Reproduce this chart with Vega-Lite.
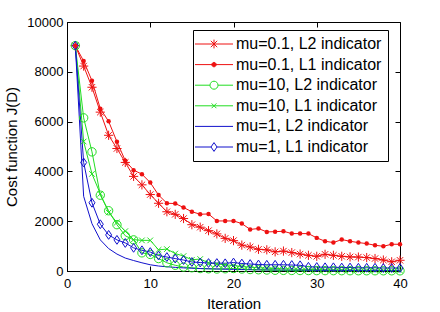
{
"$schema": "https://vega.github.io/schema/vega-lite/v6.json",
"width": 333, "height": 249,
"autosize": {"type": "none"},
"padding": {"left": 67, "top": 22, "right": 40, "bottom": 41},
"background": "white",
"config": {
  "view": {"stroke": "black", "strokeWidth": 1},
  "font": "Liberation Sans",
  "axis": {"domainColor": "black", "tickColor": "black", "labelColor": "black", "titleColor": "black", "grid": false, "labelFont": "Liberation Sans", "titleFont": "Liberation Sans", "labelFontSize": 13, "titleFontSize": 15, "titleFontWeight": "normal", "tickSize": -5, "domainWidth": 1, "tickWidth": 1}
},
"data": {"values": [
{"s":"mu=0.1, L2 indicator","x":1,"y":9050},{"s":"mu=0.1, L2 indicator","x":2,"y":8230},{"s":"mu=0.1, L2 indicator","x":3,"y":7380},{"s":"mu=0.1, L2 indicator","x":4,"y":6380},{"s":"mu=0.1, L2 indicator","x":5,"y":5450},{"s":"mu=0.1, L2 indicator","x":6,"y":4920},{"s":"mu=0.1, L2 indicator","x":7,"y":4360},{"s":"mu=0.1, L2 indicator","x":8,"y":3800},{"s":"mu=0.1, L2 indicator","x":9,"y":3460},{"s":"mu=0.1, L2 indicator","x":10,"y":3070},
{"s":"mu=0.1, L2 indicator","x":11,"y":2720},{"s":"mu=0.1, L2 indicator","x":12,"y":2380},{"s":"mu=0.1, L2 indicator","x":13,"y":2275},{"s":"mu=0.1, L2 indicator","x":14,"y":2107},{"s":"mu=0.1, L2 indicator","x":15,"y":1860},{"s":"mu=0.1, L2 indicator","x":16,"y":1760},{"s":"mu=0.1, L2 indicator","x":17,"y":1620},{"s":"mu=0.1, L2 indicator","x":18,"y":1490},{"s":"mu=0.1, L2 indicator","x":19,"y":1310},{"s":"mu=0.1, L2 indicator","x":20,"y":1220},
{"s":"mu=0.1, L2 indicator","x":21,"y":1040},{"s":"mu=0.1, L2 indicator","x":22,"y":965},{"s":"mu=0.1, L2 indicator","x":23,"y":870},{"s":"mu=0.1, L2 indicator","x":24,"y":850},{"s":"mu=0.1, L2 indicator","x":25,"y":770},{"s":"mu=0.1, L2 indicator","x":26,"y":800},{"s":"mu=0.1, L2 indicator","x":27,"y":740},{"s":"mu=0.1, L2 indicator","x":28,"y":680},{"s":"mu=0.1, L2 indicator","x":29,"y":630},{"s":"mu=0.1, L2 indicator","x":30,"y":590},
{"s":"mu=0.1, L2 indicator","x":31,"y":670},{"s":"mu=0.1, L2 indicator","x":32,"y":630},{"s":"mu=0.1, L2 indicator","x":33,"y":590},{"s":"mu=0.1, L2 indicator","x":34,"y":565},{"s":"mu=0.1, L2 indicator","x":35,"y":560},{"s":"mu=0.1, L2 indicator","x":36,"y":540},{"s":"mu=0.1, L2 indicator","x":37,"y":500},{"s":"mu=0.1, L2 indicator","x":38,"y":440},{"s":"mu=0.1, L2 indicator","x":39,"y":370},{"s":"mu=0.1, L2 indicator","x":40,"y":430},
{"s":"mu=0.1, L1 indicator","x":1,"y":9050},{"s":"mu=0.1, L1 indicator","x":2,"y":8430},{"s":"mu=0.1, L1 indicator","x":3,"y":7640},{"s":"mu=0.1, L1 indicator","x":4,"y":6520},{"s":"mu=0.1, L1 indicator","x":5,"y":6010},{"s":"mu=0.1, L1 indicator","x":6,"y":5190},{"s":"mu=0.1, L1 indicator","x":7,"y":4430},{"s":"mu=0.1, L1 indicator","x":8,"y":4050},{"s":"mu=0.1, L1 indicator","x":9,"y":3890},{"s":"mu=0.1, L1 indicator","x":10,"y":3550},
{"s":"mu=0.1, L1 indicator","x":11,"y":3050},{"s":"mu=0.1, L1 indicator","x":12,"y":2720},{"s":"mu=0.1, L1 indicator","x":13,"y":2710},{"s":"mu=0.1, L1 indicator","x":14,"y":2550},{"s":"mu=0.1, L1 indicator","x":15,"y":2380},{"s":"mu=0.1, L1 indicator","x":16,"y":2280},{"s":"mu=0.1, L1 indicator","x":17,"y":2290},{"s":"mu=0.1, L1 indicator","x":18,"y":2010},{"s":"mu=0.1, L1 indicator","x":19,"y":2010},{"s":"mu=0.1, L1 indicator","x":20,"y":2010},
{"s":"mu=0.1, L1 indicator","x":21,"y":1905},{"s":"mu=0.1, L1 indicator","x":22,"y":1670},{"s":"mu=0.1, L1 indicator","x":23,"y":1705},{"s":"mu=0.1, L1 indicator","x":24,"y":1570},{"s":"mu=0.1, L1 indicator","x":25,"y":1580},{"s":"mu=0.1, L1 indicator","x":26,"y":1596},{"s":"mu=0.1, L1 indicator","x":27,"y":1502},{"s":"mu=0.1, L1 indicator","x":28,"y":1502},{"s":"mu=0.1, L1 indicator","x":29,"y":1502},{"s":"mu=0.1, L1 indicator","x":30,"y":1330},
{"s":"mu=0.1, L1 indicator","x":31,"y":1195},{"s":"mu=0.1, L1 indicator","x":32,"y":1142},{"s":"mu=0.1, L1 indicator","x":33,"y":1263},{"s":"mu=0.1, L1 indicator","x":34,"y":1194},{"s":"mu=0.1, L1 indicator","x":35,"y":1142},{"s":"mu=0.1, L1 indicator","x":36,"y":1100},{"s":"mu=0.1, L1 indicator","x":37,"y":1033},{"s":"mu=0.1, L1 indicator","x":38,"y":993},{"s":"mu=0.1, L1 indicator","x":39,"y":1074},{"s":"mu=0.1, L1 indicator","x":40,"y":1074},
{"s":"mu=10, L2 indicator","x":1,"y":9050},{"s":"mu=10, L2 indicator","x":2,"y":6150},{"s":"mu=10, L2 indicator","x":3,"y":4785},{"s":"mu=10, L2 indicator","x":4,"y":3044},{"s":"mu=10, L2 indicator","x":5,"y":2420},{"s":"mu=10, L2 indicator","x":6,"y":1860},{"s":"mu=10, L2 indicator","x":7,"y":1415},{"s":"mu=10, L2 indicator","x":8,"y":1250},{"s":"mu=10, L2 indicator","x":9,"y":730},{"s":"mu=10, L2 indicator","x":10,"y":665},
{"s":"mu=10, L2 indicator","x":11,"y":500},{"s":"mu=10, L2 indicator","x":12,"y":330},{"s":"mu=10, L2 indicator","x":13,"y":230},{"s":"mu=10, L2 indicator","x":14,"y":160},{"s":"mu=10, L2 indicator","x":15,"y":130},{"s":"mu=10, L2 indicator","x":16,"y":100},{"s":"mu=10, L2 indicator","x":17,"y":90},{"s":"mu=10, L2 indicator","x":18,"y":80},{"s":"mu=10, L2 indicator","x":19,"y":90},{"s":"mu=10, L2 indicator","x":20,"y":100},
{"s":"mu=10, L2 indicator","x":21,"y":80},{"s":"mu=10, L2 indicator","x":22,"y":60},{"s":"mu=10, L2 indicator","x":23,"y":50},{"s":"mu=10, L2 indicator","x":24,"y":40},{"s":"mu=10, L2 indicator","x":25,"y":30},{"s":"mu=10, L2 indicator","x":26,"y":25},{"s":"mu=10, L2 indicator","x":27,"y":22},{"s":"mu=10, L2 indicator","x":28,"y":20},{"s":"mu=10, L2 indicator","x":29,"y":18},{"s":"mu=10, L2 indicator","x":30,"y":16},
{"s":"mu=10, L2 indicator","x":31,"y":15},{"s":"mu=10, L2 indicator","x":32,"y":14},{"s":"mu=10, L2 indicator","x":33,"y":13},{"s":"mu=10, L2 indicator","x":34,"y":12},{"s":"mu=10, L2 indicator","x":35,"y":11},{"s":"mu=10, L2 indicator","x":36,"y":10},{"s":"mu=10, L2 indicator","x":37,"y":10},{"s":"mu=10, L2 indicator","x":38,"y":9},{"s":"mu=10, L2 indicator","x":39,"y":9},{"s":"mu=10, L2 indicator","x":40,"y":8},
{"s":"mu=10, L1 indicator","x":1,"y":9050},{"s":"mu=10, L1 indicator","x":2,"y":5200},{"s":"mu=10, L1 indicator","x":3,"y":3900},{"s":"mu=10, L1 indicator","x":4,"y":3100},{"s":"mu=10, L1 indicator","x":5,"y":2350},{"s":"mu=10, L1 indicator","x":6,"y":1950},{"s":"mu=10, L1 indicator","x":7,"y":1600},{"s":"mu=10, L1 indicator","x":8,"y":1260},{"s":"mu=10, L1 indicator","x":9,"y":1230},{"s":"mu=10, L1 indicator","x":10,"y":1230},
{"s":"mu=10, L1 indicator","x":11,"y":850},{"s":"mu=10, L1 indicator","x":12,"y":880},{"s":"mu=10, L1 indicator","x":13,"y":700},{"s":"mu=10, L1 indicator","x":14,"y":600},{"s":"mu=10, L1 indicator","x":15,"y":450},{"s":"mu=10, L1 indicator","x":16,"y":480},{"s":"mu=10, L1 indicator","x":17,"y":330},{"s":"mu=10, L1 indicator","x":18,"y":280},{"s":"mu=10, L1 indicator","x":19,"y":250},{"s":"mu=10, L1 indicator","x":20,"y":220},
{"s":"mu=10, L1 indicator","x":21,"y":180},{"s":"mu=10, L1 indicator","x":22,"y":150},{"s":"mu=10, L1 indicator","x":23,"y":130},{"s":"mu=10, L1 indicator","x":24,"y":115},{"s":"mu=10, L1 indicator","x":25,"y":100},{"s":"mu=10, L1 indicator","x":26,"y":90},{"s":"mu=10, L1 indicator","x":27,"y":80},{"s":"mu=10, L1 indicator","x":28,"y":70},{"s":"mu=10, L1 indicator","x":29,"y":62},{"s":"mu=10, L1 indicator","x":30,"y":55},
{"s":"mu=10, L1 indicator","x":31,"y":50},{"s":"mu=10, L1 indicator","x":32,"y":45},{"s":"mu=10, L1 indicator","x":33,"y":40},{"s":"mu=10, L1 indicator","x":34,"y":36},{"s":"mu=10, L1 indicator","x":35,"y":33},{"s":"mu=10, L1 indicator","x":36,"y":30},{"s":"mu=10, L1 indicator","x":37,"y":28},{"s":"mu=10, L1 indicator","x":38,"y":25},{"s":"mu=10, L1 indicator","x":39,"y":23},{"s":"mu=10, L1 indicator","x":40,"y":20},
{"s":"mu=1, L2 indicator","x":1,"y":9050},{"s":"mu=1, L2 indicator","x":2,"y":3000},{"s":"mu=1, L2 indicator","x":3,"y":1900},{"s":"mu=1, L2 indicator","x":4,"y":1250},{"s":"mu=1, L2 indicator","x":5,"y":900},{"s":"mu=1, L2 indicator","x":6,"y":680},{"s":"mu=1, L2 indicator","x":7,"y":520},{"s":"mu=1, L2 indicator","x":8,"y":420},{"s":"mu=1, L2 indicator","x":9,"y":330},{"s":"mu=1, L2 indicator","x":10,"y":250},
{"s":"mu=1, L2 indicator","x":11,"y":200},{"s":"mu=1, L2 indicator","x":12,"y":170},{"s":"mu=1, L2 indicator","x":13,"y":145},{"s":"mu=1, L2 indicator","x":14,"y":125},{"s":"mu=1, L2 indicator","x":15,"y":110},{"s":"mu=1, L2 indicator","x":16,"y":98},{"s":"mu=1, L2 indicator","x":17,"y":88},{"s":"mu=1, L2 indicator","x":18,"y":80},{"s":"mu=1, L2 indicator","x":19,"y":72},{"s":"mu=1, L2 indicator","x":20,"y":65},
{"s":"mu=1, L2 indicator","x":21,"y":58},{"s":"mu=1, L2 indicator","x":22,"y":52},{"s":"mu=1, L2 indicator","x":23,"y":47},{"s":"mu=1, L2 indicator","x":24,"y":43},{"s":"mu=1, L2 indicator","x":25,"y":40},{"s":"mu=1, L2 indicator","x":26,"y":37},{"s":"mu=1, L2 indicator","x":27,"y":34},{"s":"mu=1, L2 indicator","x":28,"y":31},{"s":"mu=1, L2 indicator","x":29,"y":29},{"s":"mu=1, L2 indicator","x":30,"y":27},
{"s":"mu=1, L2 indicator","x":31,"y":25},{"s":"mu=1, L2 indicator","x":32,"y":23},{"s":"mu=1, L2 indicator","x":33,"y":22},{"s":"mu=1, L2 indicator","x":34,"y":21},{"s":"mu=1, L2 indicator","x":35,"y":20},{"s":"mu=1, L2 indicator","x":36,"y":19},{"s":"mu=1, L2 indicator","x":37,"y":18},{"s":"mu=1, L2 indicator","x":38,"y":17},{"s":"mu=1, L2 indicator","x":39,"y":16},{"s":"mu=1, L2 indicator","x":40,"y":15},
{"s":"mu=1, L1 indicator","x":1,"y":9050},{"s":"mu=1, L1 indicator","x":2,"y":4358},{"s":"mu=1, L1 indicator","x":3,"y":2740},{"s":"mu=1, L1 indicator","x":4,"y":1878},{"s":"mu=1, L1 indicator","x":5,"y":1450},{"s":"mu=1, L1 indicator","x":6,"y":1250},{"s":"mu=1, L1 indicator","x":7,"y":1126},{"s":"mu=1, L1 indicator","x":8,"y":930},{"s":"mu=1, L1 indicator","x":9,"y":832},{"s":"mu=1, L1 indicator","x":10,"y":760},
{"s":"mu=1, L1 indicator","x":11,"y":620},{"s":"mu=1, L1 indicator","x":12,"y":560},{"s":"mu=1, L1 indicator","x":13,"y":499},{"s":"mu=1, L1 indicator","x":14,"y":440},{"s":"mu=1, L1 indicator","x":15,"y":362},{"s":"mu=1, L1 indicator","x":16,"y":340},{"s":"mu=1, L1 indicator","x":17,"y":320},{"s":"mu=1, L1 indicator","x":18,"y":320},{"s":"mu=1, L1 indicator","x":19,"y":310},{"s":"mu=1, L1 indicator","x":20,"y":340},
{"s":"mu=1, L1 indicator","x":21,"y":300},{"s":"mu=1, L1 indicator","x":22,"y":280},{"s":"mu=1, L1 indicator","x":23,"y":260},{"s":"mu=1, L1 indicator","x":24,"y":250},{"s":"mu=1, L1 indicator","x":25,"y":250},{"s":"mu=1, L1 indicator","x":26,"y":250},{"s":"mu=1, L1 indicator","x":27,"y":240},{"s":"mu=1, L1 indicator","x":28,"y":230},{"s":"mu=1, L1 indicator","x":29,"y":170},{"s":"mu=1, L1 indicator","x":30,"y":160},
{"s":"mu=1, L1 indicator","x":31,"y":150},{"s":"mu=1, L1 indicator","x":32,"y":150},{"s":"mu=1, L1 indicator","x":33,"y":140},{"s":"mu=1, L1 indicator","x":34,"y":140},{"s":"mu=1, L1 indicator","x":35,"y":130},{"s":"mu=1, L1 indicator","x":36,"y":130},{"s":"mu=1, L1 indicator","x":37,"y":130},{"s":"mu=1, L1 indicator","x":38,"y":120},{"s":"mu=1, L1 indicator","x":39,"y":120},{"s":"mu=1, L1 indicator","x":40,"y":120}
]},
"layer": [
  {
    "mark": {"type": "line", "strokeWidth": 1, "clip": true},
    "encoding": {
      "x": {"field": "x", "type": "quantitative", "scale": {"domain": [0, 40], "nice": false, "zero": false},
            "axis": {"values": [0, 10, 20, 30, 40], "title": "Iteration", "labelPadding": 11, "titlePadding": 6, "labelFlush": false}},
      "y": {"field": "y", "type": "quantitative", "scale": {"domain": [0, 10000], "nice": false},
            "axis": {"values": [0, 2000, 4000, 6000, 8000, 10000], "format": "d", "title": "Cost function J(D)", "labelPadding": 9, "titlePadding": 7, "labelFlush": false}},
      "color": {"field": "s", "type": "nominal",
        "scale": {"domain": ["mu=0.1, L2 indicator", "mu=0.1, L1 indicator", "mu=10, L2 indicator", "mu=10, L1 indicator", "mu=1, L2 indicator", "mu=1, L1 indicator"],
                  "range": ["#ee1111", "#ee1111", "#22dd22", "#22dd22", "#1111cc", "#1111cc"]},
        "legend": {"orient": "none", "legendX": 126, "legendY": 8, "title": null,
          "strokeColor": "black", "fillColor": "white", "padding": 6,
          "labelFont": "Liberation Sans", "labelFontSize": 16, "labelColor": "black",
          "symbolSize": 64, "symbolStrokeWidth": 1, "symbolOffset": 7, "labelOffset": 14, "rowPadding": 4.6,
          "encode": {"symbols": {"update": {
            "shape": {"signal": "['M-4.75,0H4.75M0,-1.1V1.1M-0.8,-0.8L0.8,0.8M-0.8,0.8L0.8,-0.8', 'M-4.75,0H4.75M0.55,0A0.55,0.55,0,1,1,-0.55,0A0.55,0.55,0,1,1,0.55,0Z', 'M-4.75,0H-1M1,0H4.75M1,0A1,1,0,1,1,-1,0A1,1,0,1,1,1,0Z', 'M-4.75,0H4.75M-0.6,-0.6L0.6,0.6M-0.6,0.6L0.6,-0.6', 'M-4.75,0H4.75', 'M-4.75,0H-0.75M0.75,0H4.75M0,-1.1L0.75,0L0,1.1L-0.75,0Z'][indexof(['mu=0.1, L2 indicator', 'mu=0.1, L1 indicator', 'mu=10, L2 indicator', 'mu=10, L1 indicator', 'mu=1, L2 indicator', 'mu=1, L1 indicator'], datum.value)]"},
            "fill": {"signal": "datum.value == 'mu=0.1, L1 indicator' ? '#ee1111' : 'transparent'"},
            "fillOpacity": {"value": 1},
            "strokeWidth": {"value": 1}
          }}}
        }}
    }
  },
  {
    "transform": [{"filter": "datum.s != 'mu=1, L2 indicator' && datum.s != 'mu=0.1, L1 indicator'"}],
    "mark": {"type": "point", "filled": false, "strokeWidth": 1, "size": 64, "opacity": 1},
    "encoding": {
      "x": {"field": "x", "type": "quantitative", "axis": null},
      "y": {"field": "y", "type": "quantitative", "axis": null},
      "stroke": {"field": "s", "type": "nominal", "legend": null,
        "scale": {"domain": ["mu=0.1, L2 indicator", "mu=10, L2 indicator", "mu=10, L1 indicator", "mu=1, L1 indicator"],
                  "range": ["#ee1111", "#22dd22", "#22dd22", "#1111cc"]}},
      "shape": {"field": "s", "type": "nominal", "legend": null,
        "scale": {"domain": ["mu=0.1, L2 indicator", "mu=10, L2 indicator", "mu=10, L1 indicator", "mu=1, L1 indicator"],
                  "range": ["M0,-1.15V1.15M-1.15,0H1.15M-0.8,-0.8L0.8,0.8M-0.8,0.8L0.8,-0.8", "M1.05,0A1.05,1.05,0,1,1,-1.05,0A1.05,1.05,0,1,1,1.05,0Z", "M-0.7,-0.7L0.7,0.7M-0.7,0.7L0.7,-0.7", "M0,-1.1L0.75,0L0,1.1L-0.75,0Z"]}}
    }
  },
  {
    "transform": [{"filter": "datum.s == 'mu=0.1, L1 indicator'"}],
    "mark": {"type": "point", "filled": true, "size": 20, "color": "#ee1111", "opacity": 1},
    "encoding": {
      "x": {"field": "x", "type": "quantitative", "axis": {"orient": "top", "values": [0, 10, 20, 30, 40], "labels": false, "title": null, "domain": false}},
      "y": {"field": "y", "type": "quantitative", "axis": {"orient": "right", "values": [0, 2000, 4000, 6000, 8000, 10000], "labels": false, "title": null, "domain": false}}
    }
  }
],
"resolve": {"axis": {"x": "independent", "y": "independent"}}
}
